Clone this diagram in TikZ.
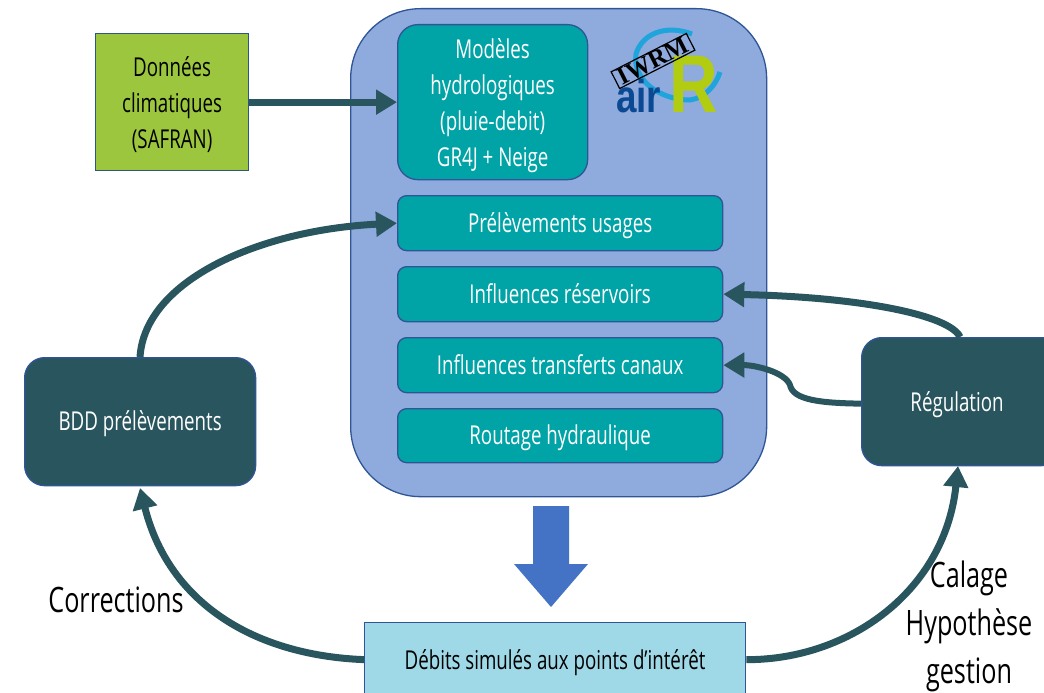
\documentclass[tikz,border=0pt]{standalone}
\usepackage{fontspec}
\setmainfont{Open Sans}[FakeStretch=0.72]
\newfontfamily\logofont{Liberation Sans}[FakeStretch=0.8]
\newfontfamily\logoR{Liberation Sans}[FakeStretch=0.82]
\newfontfamily\stampfont{Liberation Serif}
\usetikzlibrary{arrows.meta,calc,positioning}
\definecolor{teal}{HTML}{00A3A6}
\definecolor{dark}{HTML}{29555F}
\definecolor{edgeblue}{HTML}{2F5597}
\definecolor{panel}{HTML}{8FAADC}
\definecolor{leaf}{HTML}{9DC63F}
\definecolor{pale}{HTML}{9FD8E6}
\definecolor{bigarrow}{HTML}{4472C4}
\definecolor{logoblue}{HTML}{0B4A92}
\definecolor{logocyan}{HTML}{1FA4DC}
\definecolor{logogreen}{HTML}{B2CC12}
\newcommand{\dn}[1]{\raisebox{-9pt}[12pt][12pt]{#1}}
\newcommand{\blockdn}[2]{\raisebox{-#1pt}[\height][\depth]{\parbox{140pt}{\centering\fontsize{26}{36}\selectfont #2}}}
\tikzset{
  box/.style={draw=edgeblue,line width=1.3pt,align=center,inner sep=0pt,anchor=north west,font=\fontsize{26}{36}\selectfont},
  tealbox/.style={box,fill=teal,text=white,rounded corners=9pt,minimum width=325pt,minimum height=55pt},
  darkbox/.style={box,fill=dark,text=white,rounded corners=20pt},
  conn/.style={draw=dark,line width=7pt,-{Triangle[length=21pt,width=24pt]}},
  lab/.style={font=\fontsize{35}{48}\selectfont,align=center,text=black}
}
\begin{document}
\begin{tikzpicture}[x=1pt,y=-1pt]
\useasboundingbox (0,0) rectangle (1044,693);
\fill[white] (0,0) rectangle (1044,693);
\node[box,fill=panel,rounded corners=70pt,minimum width=416pt,minimum height=488pt] (main) at (350,8) {};
\node[box,fill=leaf,text=black,draw=edgeblue!70!dark,minimum width=153pt,minimum height=137pt] (clim) at (95,33) {\blockdn{2}{Données\\climatiques\\(SAFRAN)}};
\node[box,fill=teal,text=white,rounded corners=20pt,minimum width=190pt,minimum height=155pt] (model) at (397,24) {\blockdn{4}{Modèles\\hydrologiques\\(pluie-debit)\\GR4J + Neige}};
\node[tealbox] (prel) at (397,195) {\dn{Prélèvements usages}};
\node[tealbox] (res) at (397,266) {\dn{Influences réservoirs}};
\node[tealbox] (trans) at (397,337) {\dn{Influences transferts canaux}};
\node[tealbox,minimum height=54pt] (rout) at (397,408) {\dn{Routage hydraulique}};
\node[darkbox,minimum width=231pt,minimum height=128pt] (bdd) at (24,357) {\dn{BDD prélèvements}};
\node[darkbox,minimum width=200pt,minimum height=128pt] (regu) at (861,337) {};
\node[text=white,font=\fontsize{26}{36}\selectfont] (regutxt) at (957,405) {Régulation};
\node[box,fill=pale,text=black,minimum width=381pt,minimum height=90pt] (deb) at (364,622) {};
\node[text=black,font=\fontsize{26}{36}\selectfont] (debtxt) at (555,663) {Débits simulés aux points d’intérêt};
% big arrow
\fill[bigarrow] (533,506) -- (569,506) -- (569,564) -- (588,564) -- (551,607) -- (514,564) -- (533,564) -- cycle;
% logo
\draw[logocyan,line width=5pt] (692,34) .. controls (665,24) and (642,34) .. (636,54) .. controls (632,80) and (660,100) .. (690,100) .. controls (705,98) and (716,85) .. (720,72);
\node[font=\logofont\bfseries\fontsize{46}{46}\selectfont,text=logoblue,inner sep=0pt,anchor=base west] (air) at (616,112) {air};
\node[font=\logoR\bfseries\fontsize{82}{82}\selectfont,text=logogreen,inner sep=0pt,anchor=base west] (rr) at (669,112) {R};
\node[draw=black,line width=1.2pt,rotate=27,font=\stampfont\bfseries\fontsize{25}{25}\selectfont,text=black,inner xsep=4pt,inner ysep=1pt] (stamp) at (653,61) {IWRM};
% connectors
\draw[conn] (clim.east) -- (clim.east -| model.west);
\draw[conn] (bdd.north -| 140,357) .. controls (145,280) and (260,230) .. (prel.west);
\draw[conn] ([xshift=99pt]regu.north west) .. controls (950,315) and (860,297) .. (res.east);
\draw[conn,line width=6pt] ([yshift=-2pt]regu.west) .. controls (820,403) and (793,400) .. (790,385) .. controls (785,372) and (755,365) .. (trans.east);
\draw[conn] ([yshift=8pt]deb.west) .. controls (250,655) and (168,600) .. (140,488);
\draw[conn] ([yshift=8pt]deb.east) .. controls (850,660) and (945,590) .. (958,466);
% labels
\node[lab] (corr) at (116,600) {Corrections};
\node[lab] (cal) at (969,626) {Calage\\Hypothèse\\gestion};
\end{tikzpicture}
\end{document}
